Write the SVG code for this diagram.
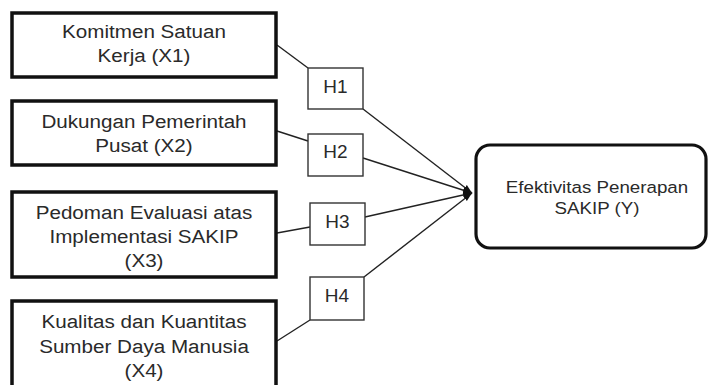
<svg xmlns="http://www.w3.org/2000/svg" width="708" height="385" viewBox="0 0 708 385">
<style>
.box{fill:#fff;stroke:#111;stroke-width:3.5}
.ybox{fill:#fff;stroke:#111;stroke-width:3.2}
.hbox{fill:#fff;stroke:#333;stroke-width:1.4}
.t{font-family:"Liberation Sans",Arial,sans-serif;font-size:18.6px;fill:#2a2a2a;text-anchor:middle}
.ty{font-family:"Liberation Sans",Arial,sans-serif;font-size:17.2px;fill:#2a2a2a;text-anchor:middle}
.h{font-family:"Liberation Sans",Arial,sans-serif;font-size:19px;fill:#2a2a2a;text-anchor:middle}
.ln{stroke:#222;stroke-width:1.4;fill:none}
.la{stroke:#222;stroke-width:1.4;fill:none;marker-end:url(#ah)}
</style>
<defs>
<marker id="ah" markerWidth="10" markerHeight="8" refX="9" refY="4" orient="auto" markerUnits="userSpaceOnUse">
<path d="M0,0.8 L9,4 L0,7.2 Z" fill="#111"/>
</marker>
</defs>
<rect width="708" height="385" fill="#fff"/>
<g id="connectors">
<line class="ln" x1="277" y1="45" x2="308" y2="68"/>
<line class="la" x1="363" y1="109" x2="472" y2="193"/>
<line class="ln" x1="277" y1="131" x2="308" y2="141"/>
<line class="la" x1="363" y1="158" x2="472" y2="193"/>
<line class="ln" x1="277" y1="233" x2="310" y2="227"/>
<line class="la" x1="365" y1="217" x2="472" y2="193"/>
<line class="ln" x1="277" y1="341" x2="310" y2="320"/>
<line class="la" x1="364" y1="277" x2="472" y2="193"/>
</g>
<g id="x1">
<rect class="box" x="12" y="13" width="264" height="64"/>
<g transform="translate(144 0) scale(1.11 1)">
<text class="t" x="0" y="38.5">Komitmen Satuan</text>
<text class="t" x="0" y="62">Kerja (X1)</text>
</g>
</g>
<g id="x2">
<rect class="box" x="12" y="101" width="264" height="64"/>
<g transform="translate(144 0) scale(1.11 1)">
<text class="t" x="0" y="128">Dukungan Pemerintah</text>
<text class="t" x="0" y="152.5">Pusat (X2)</text>
</g>
</g>
<g id="x3">
<rect class="box" x="12" y="192" width="264" height="85"/>
<g transform="translate(144 0) scale(1.11 1)">
<text class="t" x="0" y="219">Pedoman Evaluasi atas</text>
<text class="t" x="0" y="243">Implementasi SAKIP</text>
<text class="t" x="0" y="267">(X3)</text>
</g>
</g>
<g id="x4">
<rect class="box" x="12" y="301" width="264" height="100"/>
<g transform="translate(144 0) scale(1.11 1)">
<text class="t" x="0" y="328">Kualitas dan Kuantitas</text>
<text class="t" x="0" y="353">Sumber Daya Manusia</text>
<text class="t" x="0" y="377">(X4)</text>
</g>
</g>
<g id="h1">
<rect class="hbox" x="308" y="68" width="55" height="41"/>
<text class="h" x="335.5" y="92.5">H1</text>
</g>
<g id="h2">
<rect class="hbox" x="308" y="134" width="55" height="42"/>
<text class="h" x="335.5" y="158">H2</text>
</g>
<g id="h3">
<rect class="hbox" x="310" y="203" width="55" height="42"/>
<text class="h" x="337.5" y="227.5">H3</text>
</g>
<g id="h4">
<rect class="hbox" x="310" y="277" width="54" height="43"/>
<text class="h" x="337" y="301.5">H4</text>
</g>
<g id="y">
<rect class="ybox" x="476" y="145" width="230" height="103" rx="14" ry="14"/>
<g transform="translate(597 0) scale(1.09 1)">
<text class="ty" x="0" y="193">Efektivitas Penerapan</text>
<text class="ty" x="0" y="214.5">SAKIP (Y)</text>
</g>
</g>
</svg>
